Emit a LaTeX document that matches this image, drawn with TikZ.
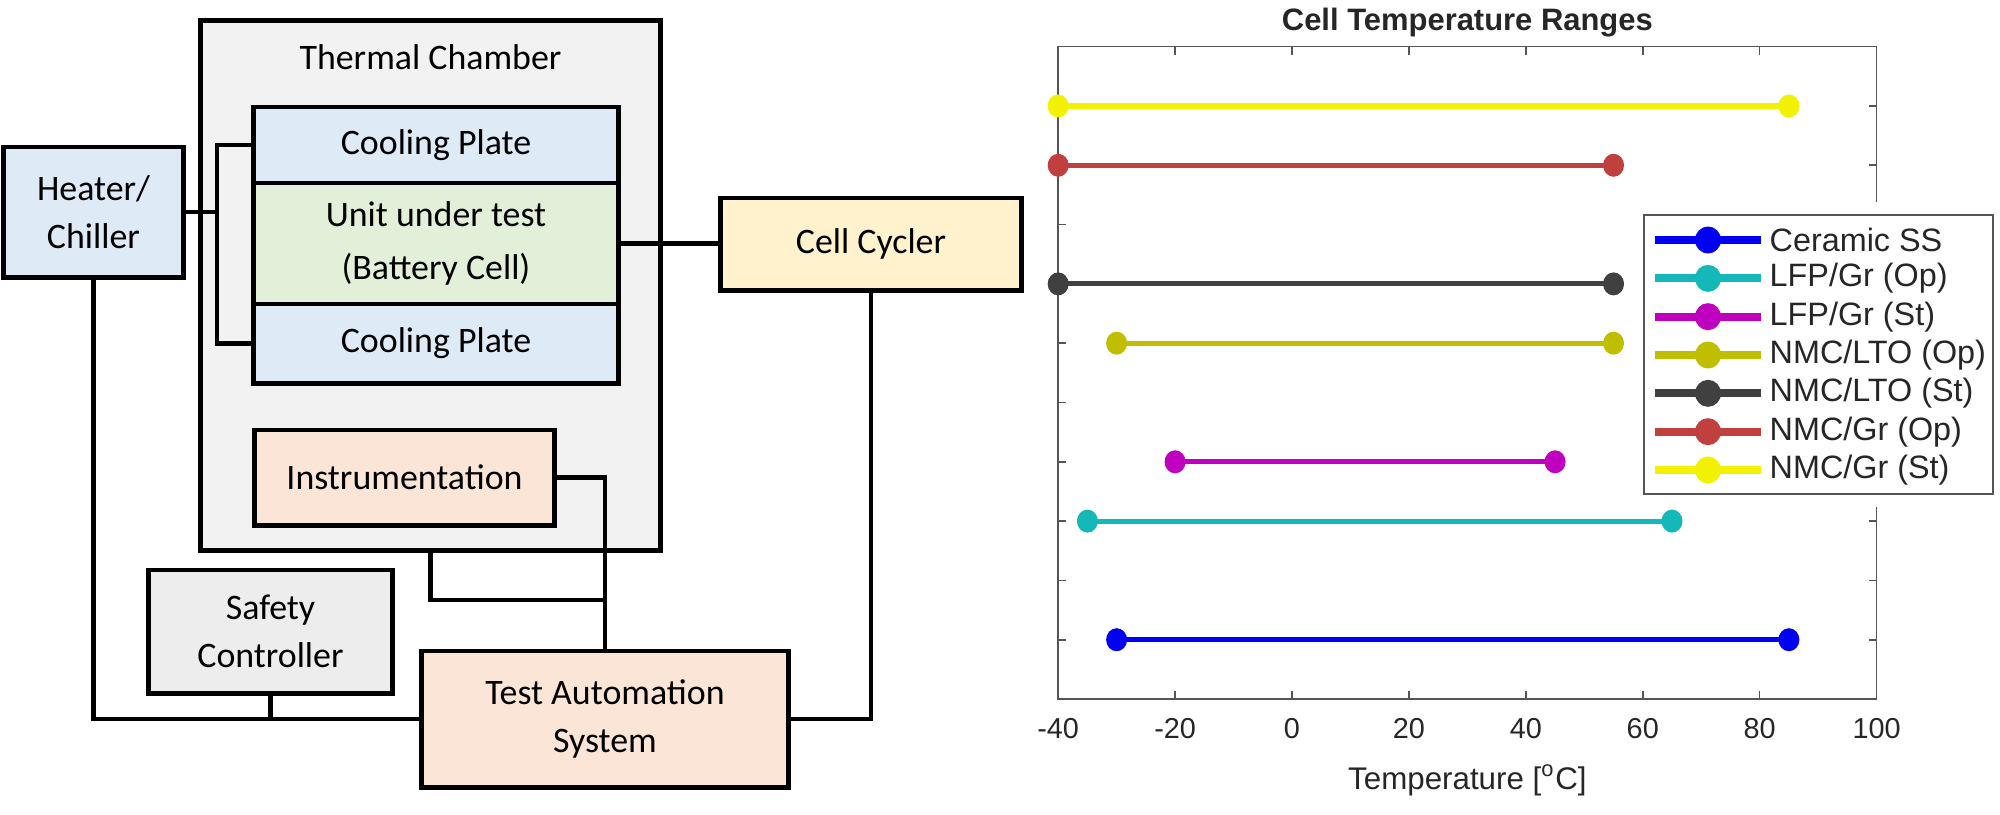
\documentclass[tikz,border=0pt]{standalone}
\usepackage{fontspec}
\setmainfont{Carlito}
\newfontfamily\plotfont{Liberation Sans}
\usepackage{xcolor}
\usepackage{tikz}
\usetikzlibrary{calc}

\definecolor{chamberfill}{HTML}{F2F2F2}
\definecolor{platefill}{HTML}{DEEBF7}
\definecolor{unitfill}{HTML}{E2F0D9}
\definecolor{cyclerfill}{HTML}{FFF2CC}
\definecolor{orangefill}{HTML}{FBE5D6}
\definecolor{safetyfill}{HTML}{EDEDED}
\definecolor{axisgray}{HTML}{555555}
\definecolor{plottext}{HTML}{262626}
\definecolor{cblue}{HTML}{0000F2}
\definecolor{ccyan}{HTML}{14B8B8}
\definecolor{cmag}{HTML}{BF00BF}
\definecolor{colive}{HTML}{BFBF00}
\definecolor{cdark}{HTML}{404040}
\definecolor{cred}{HTML}{C03F3F}
\definecolor{cyell}{HTML}{F2F200}

\begin{document}
\begin{tikzpicture}[
    x=0.01cm,y=-0.01cm,
    block/.style={draw,line width=1.4pt,align=center,inner sep=0pt,
        font={\fontsize{10.2}{13.6}\selectfont}},
    link/.style={line width=1.15pt},
    axisline/.style={axisgray,line width=0.45pt},
    ticklabel/.style={plottext,font={\plotfont\fontsize{8.2}{9}\selectfont}},
    rangeline/.style={line width=1.45pt},
    legline/.style={line width=2.3pt},
    legtext/.style={plottext,inner sep=0pt,
        font={\plotfont\fontsize{9.2}{10}\selectfont}},
    ]
    \useasboundingbox (0,0) rectangle (2000,814);
    % Thermal chamber
    \node[block,fill=chamberfill,minimum width=4.59cm,minimum height=5.29cm]
        (chamber) at (430.5,285.5) {};
    \node[font={\fontsize{10.2}{13.6}\selectfont}] (chambertitle) at (430.5,57)
        {Thermal Chamber};
    % Cell stack
    \node[block,fill=platefill,minimum width=3.64cm,minimum height=0.76cm]
        (coolA) at (436,145) {Cooling Plate};
    \node[block,fill=unitfill,minimum width=3.64cm,minimum height=1.21cm,
        font={\fontsize{10.2}{15}\selectfont}]
        (unit) at (436,243.5) {Unit under test\\(Battery Cell)};
    \node[block,fill=platefill,minimum width=3.64cm,minimum height=0.79cm]
        (coolB) at (436,343.5) {Cooling Plate};
    \node[block,fill=orangefill,minimum width=2.99cm,minimum height=0.95cm]
        (instr) at (404.5,477.5) {Instrumentation};
    % Outside the chamber
    \node[block,fill=platefill,minimum width=1.79cm,minimum height=1.30cm]
        (heater) at (93.5,212) {Heater/\\Chiller};
    \node[block,fill=safetyfill,minimum width=2.43cm,minimum height=1.23cm]
        (safety) at (270.5,631.5) {Safety\\Controller};
    \node[block,fill=orangefill,minimum width=3.66cm,minimum height=1.36cm]
        (tas) at (605,719) {Test Automation\\System};
    \node[block,fill=cyclerfill,minimum width=3.00cm,minimum height=0.92cm]
        (cycler) at (871,244) {Cell Cycler};
    % Connections
    \coordinate (hub) at (217,212);
    \coordinate (join) at (605,600);
    \draw[link] (heater.east) -- (hub);
    \draw[link] (coolA.west) -| (hub) |- (coolB.west);
    \draw[link] (unit.east) -- (unit.east -| cycler.west);
    \draw[link] (heater.south) |- (tas.west);
    \draw[link] (safety.south) -- (safety.south |- tas.west);
    \draw[link] (tas.east) -| (cycler.south);
    \draw[link] (instr.east) -| (tas.north);
    \draw[link] (chamber.south) |- (join);

    % Temperature range plot
    \begin{scope}[shift={(1292,699)},x=0.05843cm,y=0.5927cm]
        \draw[axisline] (-40,0) rectangle (100,11);
        \foreach \t in {-20,0,...,80}{
            \draw[axisline] (\t,0) -- ++(0pt,2.3pt);
            \draw[axisline] (\t,11) -- ++(0pt,-2.3pt);}
        \foreach \k in {1,...,10}{
            \draw[axisline] (-40,\k) -- ++(2.3pt,0pt);
            \draw[axisline] (100,\k) -- ++(-2.3pt,0pt);}
        \foreach \t in {-40,-20,...,100}
            \node[ticklabel] at (\t,-0.49) {\t};
        \node[plottext,font={\plotfont\bfseries\fontsize{8.8}{10}\selectfont}]
            (title) at (30,11.4) {Cell Temperature Ranges};
        \node[plottext,font={\plotfont\fontsize{8.9}{10}\selectfont}]
            (xlabel) at (30,-1.37) {Temperature [\textsuperscript{o}C]};
        % ranges
        \foreach \lo/\hi/\row/\col in {-30/85/1/cblue,-35/65/3/ccyan,
                -20/45/4/cmag,-30/55/6/colive,-40/55/7/cdark,
                -40/55/9/cred,-40/85/10/cyell}{
            \draw[rangeline,color=\col] (\lo,\row) -- (\hi,\row);
            \fill[\col] (\lo,\row) ellipse [x radius=0.105cm,y radius=0.115cm];
            \fill[\col] (\hi,\row) ellipse [x radius=0.105cm,y radius=0.115cm];}
    \end{scope}
    % Legend
    \fill[white] (1640,202) rectangle (1997,507);
    \draw[axisgray,line width=0.5pt] (1644,215) rectangle (1993,494);
    \foreach \name/\col [count=\i] in {Ceramic SS/cblue,{LFP/Gr (Op)}/ccyan,
            {LFP/Gr (St)}/cmag,{NMC/LTO (Op)}/colive,{NMC/LTO (St)}/cdark,
            {NMC/Gr (Op)}/cred,{NMC/Gr (St)}/cyell}{
        \pgfmathsetmacro\ly{240+(\i-1)*38.33}
        \draw[legline,color=\col] (1655,\ly) -- (1761,\ly);
        \fill[\col] (1708,\ly) ellipse [x radius=0.13cm,y radius=0.135cm];
        \node[legtext,anchor=west] at (1769,\ly) {\name};}
\end{tikzpicture}
\end{document}
